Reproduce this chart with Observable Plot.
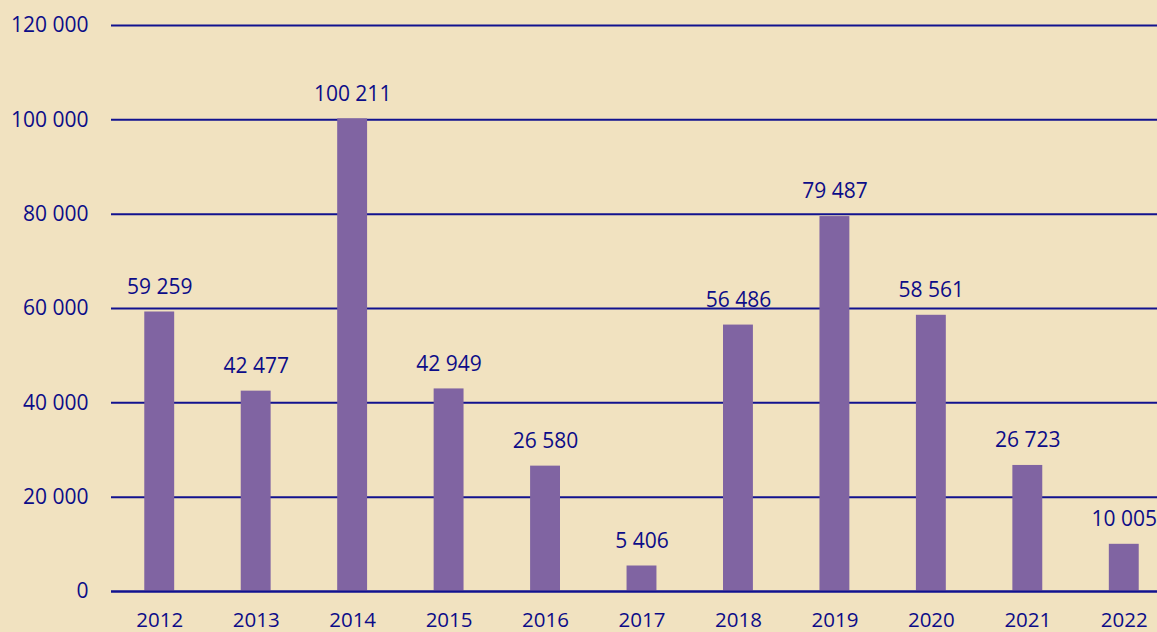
<!DOCTYPE html>
<html>
<head>
<meta charset="utf-8">
<script src="https://cdn.jsdelivr.net/npm/d3@7"></script>
<script src="https://cdn.jsdelivr.net/npm/@observablehq/plot@0.6"></script>
<style>
  html, body { margin: 0; padding: 0; overflow: hidden; width: 1157px; height: 632px; }
  body { background: #F1E2C0; }
  #chart svg { display: block; max-width: none !important; }
</style>
</head>
<body>
<div id="chart"></div>
<script>
const years = ["2012","2013","2014","2015","2016","2017","2018","2019","2020","2021","2022"];
const values = [59259, 42477, 100211, 42949, 26580, 5406, 56486, 79487, 58561, 26723, 10005];
const yTicks = [0, 20000, 40000, 60000, 80000, 100000, 120000];

const data = years.map((y, i) => ({year: y, value: values[i]}));
const fmt = v => d3.format(",")(v).replace(/,/g, "\u00a0");
const navy = "#0C0C88";
const gridColor = "#12128F";

const chart = Plot.plot({
  width: 1173,
  height: 632,
  marginLeft: 111,
  marginRight: 1,
  marginTop: 25,
  marginBottom: 41,
  style: {background: "transparent", fontFamily: "'Open Sans', sans-serif", fontSize: "20px", color: navy, overflow: "visible", maxWidth: "none"},
  x: {domain: years, paddingInner: 0.69, paddingOuter: 0.345, round: false, label: null},
  y: {domain: [0, 120000], ticks: yTicks, label: null},
  marks: [
    Plot.ruleY(yTicks, {stroke: gridColor, strokeWidth: 2}),
    Plot.barY(data, {x: "year", y: "value", fill: "#8064A2"}),
    Plot.ruleY([0], {stroke: gridColor, strokeWidth: 2}),
    Plot.text(data, {x: "year", y: "value", text: d => fmt(d.value), dy: -25, lineAnchor: "middle", fill: navy, fontSize: 21}),
    Plot.axisY({ticks: yTicks, tickSize: 0, tickPadding: 23, tickFormat: fmt, label: null, fill: navy, fontSize: 21}),
    Plot.axisX({tickSize: 0, tickPadding: 21, label: null, fill: navy, fontSize: 20.5})
  ]
});
document.getElementById("chart").appendChild(chart);
</script>
</body>
</html>
